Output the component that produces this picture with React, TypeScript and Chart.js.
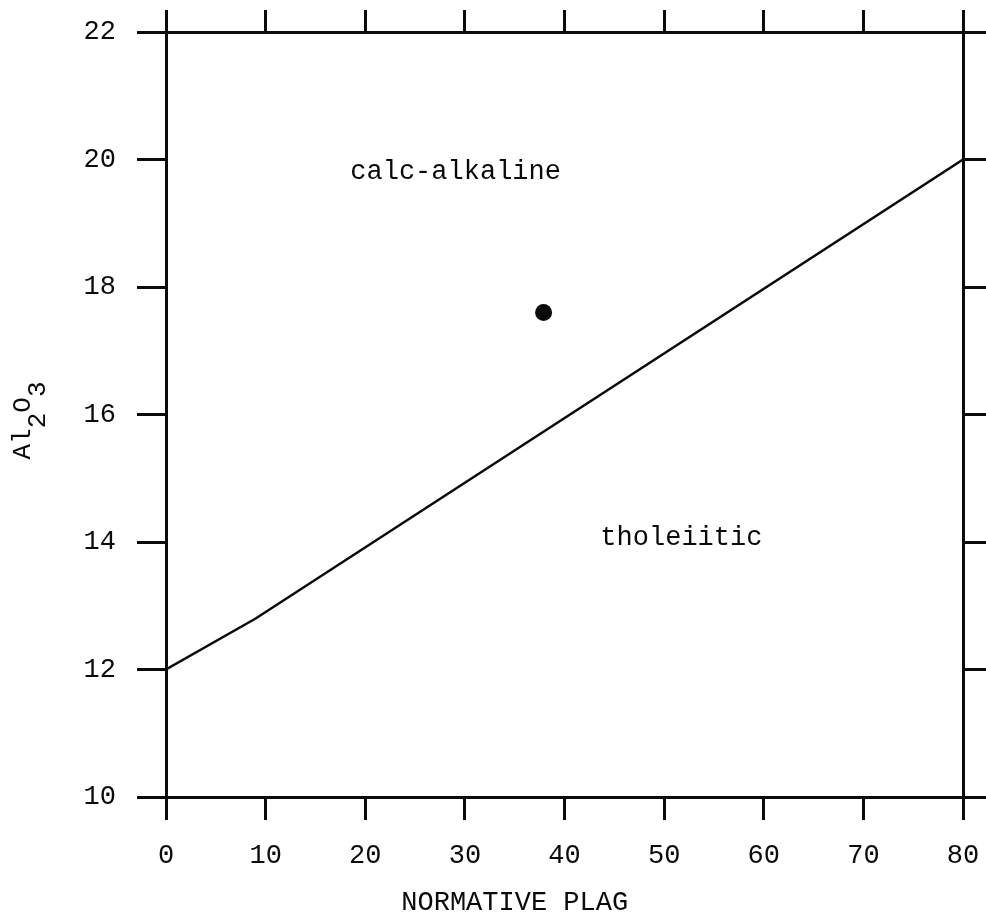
import React, { useEffect, useRef } from 'react';
import { Chart, registerables } from 'chart.js';

Chart.register(...registerables);

// ---- data ----
const xTickValues = [0, 10, 20, 30, 40, 50, 60, 70, 80];
const yTickValues = [10, 12, 14, 16, 18, 20, 22];
const boundaryX = [0, 9, 80];
const boundaryY = [12, 12.8, 20];
const sampleX = [37.9];
const sampleY = [17.6];
const fieldLabels = ['calc-alkaline', 'tholeiitic'];
const fieldLabelX = [18.5, 43.6];
const fieldLabelY = [19.7, 13.95];
const xTitle = 'NORMATIVE PLAG';
const xTitleCenter = 35;
const yTitleParts: [string, boolean][] = [
  ['A', false],
  ['l', false],
  ['2', true],
  ['O', false],
  ['3', true],
];

const INK = '#0a0a0a';
const FAMILY = '"Liberation Mono", "Courier New", monospace';
const FONT_SIZE = 27;

const textPlugin = {
  id: 'textPlugin',
  afterDraw(chart: any) {
    const { ctx, chartArea } = chart;
    const xs = chart.scales.x;
    const ys = chart.scales.y;
    ctx.save();
    ctx.fillStyle = INK;
    ctx.font = `${FONT_SIZE}px ${FAMILY}`;
    ctx.textBaseline = 'alphabetic';
    ctx.textAlign = 'left';
    fieldLabels.forEach((t, i) => {
      ctx.fillText(t, xs.getPixelForValue(fieldLabelX[i]), ys.getPixelForValue(fieldLabelY[i]));
    });
    // x title
    ctx.textAlign = 'center';
    ctx.fillText(xTitle, xs.getPixelForValue(xTitleCenter), chartArea.bottom + 113);
    // y title (rotated, with subscripts)
    ctx.font = `26px ${FAMILY}`;
    ctx.translate(30, (chartArea.top + chartArea.bottom) / 2 + 6);
    ctx.rotate(-Math.PI / 2);
    ctx.textAlign = 'left';
    let total = 0;
    yTitleParts.forEach(([c]) => (total += ctx.measureText(c).width));
    let pos = -total / 2;
    yTitleParts.forEach(([c, sub]) => {
      ctx.fillText(c, pos, sub ? 15 : 0);
      pos += ctx.measureText(c).width;
    });
    ctx.restore();
  },
};

function makeTicks(values: number[]) {
  return (scale: any) => {
    scale.ticks = values.map((v) => ({ value: v }));
  };
}

function fixSize(dim: 'width' | 'height', size: number) {
  return (s: any) => {
    s[dim] = size;
    s.paddingTop = 0;
    s.paddingBottom = 0;
    s.paddingLeft = 0;
    s.paddingRight = 0;
  };
}

export default function App() {
  const ref = useRef<HTMLCanvasElement | null>(null);
  useEffect(() => {
    if (!ref.current) return;
    const tickFont = { family: FAMILY, size: FONT_SIZE };
    const chart = new Chart(ref.current, {
      type: 'scatter',
      data: {
        datasets: [
          {
            data: boundaryX.map((x, i) => ({ x, y: boundaryY[i] })),
            showLine: true,
            borderColor: INK,
            borderWidth: 2.5,
            pointRadius: 0,
            xAxisID: 'x',
            yAxisID: 'y',
          },
          {
            data: sampleX.map((x, i) => ({ x, y: sampleY[i] })),
            pointRadius: 8.5,
            backgroundColor: INK,
            borderWidth: 0,
            xAxisID: 'x',
            yAxisID: 'y',
          },
        ],
      },
      options: {
        responsive: false,
        animation: false,
        layout: { padding: 0 },
        plugins: { legend: { display: false }, tooltip: { enabled: false } },
        scales: {
          x: {
            type: 'linear',
            position: 'bottom',
            min: 0,
            max: 80,
            afterBuildTicks: makeTicks(xTickValues),
            afterFit: fixSize('height', 127),
            grid: { drawOnChartArea: false, drawTicks: true, tickLength: 23, lineWidth: 3, color: INK },
            border: { display: true, width: 3, color: INK },
            ticks: { padding: 20, font: tickFont, color: INK, maxRotation: 0, autoSkip: false },
          },
          x2: {
            type: 'linear',
            position: 'top',
            min: 0,
            max: 80,
            afterBuildTicks: makeTicks(xTickValues),
            afterFit: fixSize('height', 32),
            grid: { drawOnChartArea: false, drawTicks: true, tickLength: 22, lineWidth: 3, color: INK },
            border: { display: true, width: 3, color: INK },
            ticks: { display: false },
          },
          y: {
            type: 'linear',
            position: 'left',
            min: 10,
            max: 22,
            afterBuildTicks: makeTicks(yTickValues),
            afterFit: fixSize('width', 166),
            grid: { drawOnChartArea: false, drawTicks: true, tickLength: 29, lineWidth: 3, color: INK },
            border: { display: true, width: 3, color: INK },
            ticks: { padding: 21, font: tickFont, color: INK, autoSkip: false },
          },
          y2: {
            type: 'linear',
            position: 'right',
            min: 10,
            max: 22,
            afterBuildTicks: makeTicks(yTickValues),
            afterFit: fixSize('width', 23),
            grid: { drawOnChartArea: false, drawTicks: true, tickLength: 23, lineWidth: 3, color: INK },
            border: { display: true, width: 3, color: INK },
            ticks: { display: false },
          },
        },
      },
      plugins: [textPlugin],
    } as any);
    return () => chart.destroy();
  }, []);
  return (
    <div style={{ position: 'fixed', left: 0, top: 0, width: 986, height: 924, background: '#fff' }}>
      <canvas ref={ref} width={986} height={924} />
    </div>
  );
}
